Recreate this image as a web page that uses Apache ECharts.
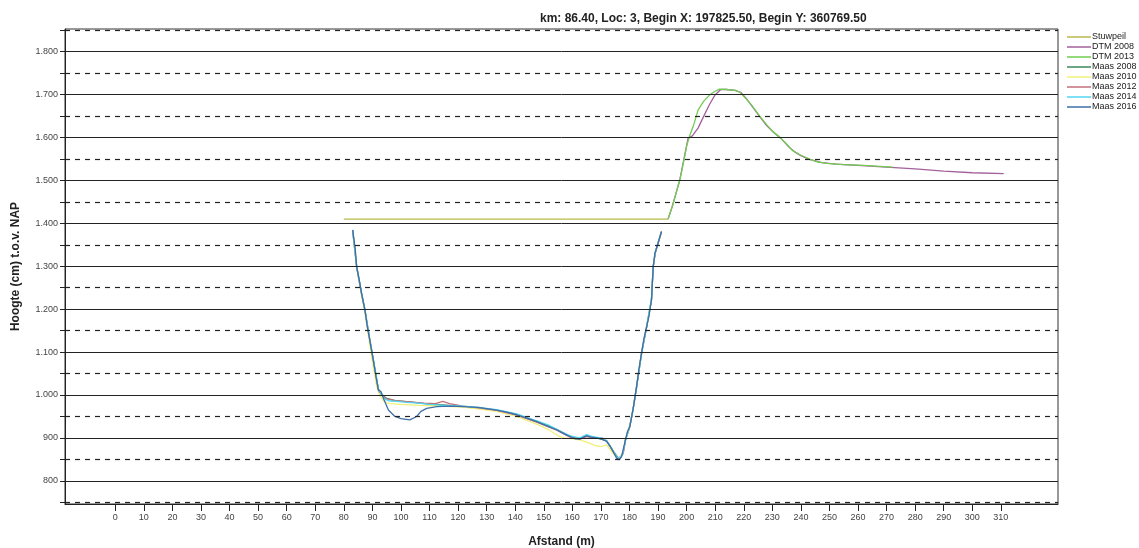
<!DOCTYPE html>
<html>
<head>
<meta charset="utf-8">
<script src="https://cdn.jsdelivr.net/npm/echarts@6/dist/echarts.min.js"></script>
<style>html,body{margin:0;padding:0;background:#fff}#c{width:1139px;height:548px}</style>
</head>
<body>
<div id="c"></div>
<script>
// ---- data ----
const titleText = 'km: 86.40, Loc: 3, Begin X: 197825.50, Begin Y: 360769.50';
const xTicks = [0,10,20,30,40,50,60,70,80,90,100,110,120,130,140,150,160,170,180,190,200,210,220,230,240,250,260,270,280,290,300,310];
const yTicks = [800,900,1000,1100,1200,1300,1400,1500,1600,1700,1800];
const yHalfTicks = [750,850,950,1050,1150,1250,1350,1450,1550,1650,1750,1850];
const seriesNames = ['Stuwpeil','DTM 2008','DTM 2013','Maas 2008','Maas 2010','Maas 2012','Maas 2014','Maas 2016'];

const stuwpeil = [[80,1410],[193.5,1410]];
const dtm2008 = [[193.5,1410],[195,1440],[196.5,1475],[197.6,1501],[199,1548],[200.5,1598],[202,1604],[204,1622],[206,1650],[208,1677],[210,1700],[212,1712],[214,1712],[217,1710],[219,1705],[221,1690],[223,1672],[225.6,1649],[228,1628],[230.5,1612],[233,1598],[235.5,1580],[238,1566],[240,1558],[243,1549],[247,1542],[252,1538],[260,1535],[270,1531],[280,1527],[290,1522],[300,1518],[311,1516]];
const dtm2013 = [[193.5,1410],[195,1440],[196.5,1475],[197.6,1501],[199,1545],[200,1580],[201,1603],[202.5,1630],[204,1664],[206,1685],[208,1699],[210,1708],[211.5,1713],[214,1712],[217,1710],[218.6,1706],[220,1696],[222.5,1678],[225.6,1650],[228,1630],[230,1615],[232.6,1601],[235,1585],[237,1570],[239.6,1560],[243,1550],[246,1543],[249,1540],[255,1537],[262,1535],[272,1531]];
const maas2008 = [[83.1,1384],[84.5,1299],[86.2,1237],[87.4,1198],[89.1,1128],[90.3,1083],[92.1,1013],[93.2,1002],[95,992],[98,987],[103,984],[110,979],[117,976],[121.8,973],[127,970],[133.5,965],[140.5,955],[147.5,939],[154.5,920],[159.2,904],[162.6,898],[165,905],[168.5,900],[172,893],[174.3,869],[176.4,850],[177.8,865],[178.6,896],[180.1,927],[181.3,969],[182.5,1020],[184.2,1096],[186,1159],[187.7,1222],[188.3,1299],[189,1331],[190,1354],[191.2,1381]];
const maas2010 = [[83.1,1380],[84.5,1295],[86.2,1232],[87.4,1190],[89,1120],[90.2,1070],[91.5,1020],[92.5,1000],[94,985],[96,980],[100,978],[106,976],[112,975],[121.8,972],[127,968],[133.5,962],[140.5,950],[147.5,932],[152,918],[155,905],[157,900],[160,898],[163,895],[166,888],[168,882],[170,880],[172,884],[174,866],[176,851],[177.8,866],[178.6,897],[180.1,930],[181.3,970],[182.5,1022],[184.2,1099],[186,1162],[187.7,1224],[188.3,1300],[189,1333],[190,1355],[191.2,1380]];
const maas2012 = [[83.1,1384],[84.5,1298],[86.2,1236],[87.4,1197],[89.1,1127],[90.3,1081],[92.1,1011],[93.5,998],[95,991],[98,987],[103,984],[108,981],[112,980],[114.7,985],[117,980],[121.8,974],[127,970],[133.5,964],[140.5,953],[147.5,937],[154.5,918],[159.2,902],[162.6,897],[165,903],[168.5,899],[170.5,900],[172,893],[174.3,868],[176.4,850],[177.8,864],[178.6,895],[180.1,926],[181.3,968],[182.5,1020],[184.2,1097],[186,1158],[187.7,1221],[188.3,1298],[189,1331],[190,1353],[191.2,1380]];
const maas2014 = [[83.1,1383],[84.5,1300],[86.2,1238],[87.4,1199],[89.1,1130],[90.3,1084],[92.1,1015],[93.2,1000],[94.5,990],[96,986],[98.5,985],[102,983],[106,981],[110,978],[115,976],[121.8,974],[127,971],[133.5,966],[140.5,956],[147.5,940],[152,929],[156,915],[159.2,905],[162.6,900],[165,908],[167,903],[170,900],[172,894],[174,872],[176,852],[177.5,860],[178.6,893],[180.1,928],[181.3,968],[182.5,1018],[184.2,1095],[186,1160],[187.7,1225],[188.3,1300],[189,1332],[190,1355],[191,1378]];
const maas2016 = [[83.1,1385],[84,1340],[84.5,1299],[85.5,1265],[86.2,1237],[87.4,1198],[88.2,1160],[89.1,1128],[90.3,1082],[91.2,1045],[92.1,1012],[93,1008],[94,990],[95.6,965],[97.9,950],[100,945],[103.1,942],[105.5,950],[107,962],[109,969],[112.5,973],[117,974],[121.8,973],[127,971],[133.5,965],[137,960],[140.5,954],[144,946],[147.5,938],[151,928],[154.5,919],[157,910],[159.2,903],[161,898],[162.6,897],[164,902],[165,905],[166.5,902],[168.5,900],[170,898],[172,892],[173.3,880],[174.3,868],[175.5,853],[176.4,849],[177.2,856],[178.6,896],[179.3,915],[180.1,926],[181.3,969],[182.5,1020],[183.3,1060],[184.2,1097],[185,1130],[186,1159],[186.9,1187],[187.3,1188],[187.7,1222],[188,1260],[188.3,1299],[188.9,1330],[190,1354],[191.2,1381]];

const seriesData = [stuwpeil, dtm2008, dtm2013, maas2008, maas2010, maas2012, maas2014, maas2016];
const seriesColors = ['#b9b94c','#a2609c','#72cc52','#3a8a5a','#f0f07a','#c2707c','#52d6f0','#3f6fa8'];

function fmtY(v){
  if (v >= 1000) { const t = Math.floor(v/1000); const r = String(v - t*1000).padStart(3,'0'); return t + '.' + r; }
  return String(v);
}

const chart = echarts.init(document.getElementById('c'), null, {renderer:'canvas'});
const lineSeries = seriesNames.map((n,i)=>({
  name:n, type:'line', data:seriesData[i], showSymbol:false, symbol:'none',
  lineStyle:{color:seriesColors[i], width:1.3}, itemStyle:{color:seriesColors[i]},
  animation:false, z:3
}));
const gridSeries = {
  name:'grid', type:'line', data:[], silent:true, animation:false, z:1,
  markLine:{
    silent:true, symbol:['none','none'], animation:false, label:{show:false},
    data: yTicks.map(v=>({yAxis:v, lineStyle:{color:'#222', width:1, type:'solid'}}))
      .concat(yHalfTicks.map(v=>({yAxis:v, lineStyle:{color:'#222', width:1.2, type:[5,5]}})))
  }
};
chart.setOption({
  animation:false,
  backgroundColor:'#fff',
  title:{text:titleText, left:535, top:8, textStyle:{fontFamily:'Liberation Sans, Arial', fontSize:12, fontWeight:'bold', color:'#222'}},
  legend:{
    data:seriesNames, orient:'vertical', left:1062, top:27, icon:'rect', itemWidth:24, itemHeight:1.5, itemGap:0,
    textStyle:{fontFamily:'Liberation Sans, Arial', fontSize:9, color:'#222', lineHeight:10, padding:[0,0,0,-4]}
  },
  grid:{left:65, top:29, right:81, bottom:44, outerBoundsMode:'none', containLabel:false, show:true, borderColor:'#333', borderWidth:1, backgroundColor:'#fff'},
  xAxis:{
    type:'value', min:-17.6, max:330,
    name:'Afstand (m)', nameLocation:'middle', nameGap:32,
    nameTextStyle:{fontFamily:'Liberation Sans, Arial', fontSize:12, fontWeight:'bold', color:'#222'},
    axisLine:{show:true, onZero:false, lineStyle:{color:'#222', width:1}},
    axisTick:{show:true, length:7, customValues:xTicks, lineStyle:{color:'#222'}},
    axisLabel:{customValues:xTicks, fontFamily:'Liberation Sans, Arial', fontSize:9, color:'#444', margin:9},
    splitLine:{show:false}
  },
  yAxis:{
    type:'value', min:746, max:1853,
    name:'Hoogte (cm) t.o.v. NAP', nameLocation:'middle', nameGap:43, nameRotate:90,
    nameTextStyle:{fontFamily:'Liberation Sans, Arial', fontSize:12, fontWeight:'bold', color:'#222'},
    axisLine:{show:true, onZero:false, lineStyle:{color:'#222', width:1}},
    axisTick:{show:true, length:5, customValues:yTicks.concat(yHalfTicks), lineStyle:{color:'#222'}},
    axisLabel:{customValues:yTicks, formatter:fmtY, fontFamily:'Liberation Sans, Arial', fontSize:9, color:'#444', margin:7},
    splitLine:{show:false}
  },
  series:[gridSeries].concat(lineSeries)
});
</script>
</body>
</html>
